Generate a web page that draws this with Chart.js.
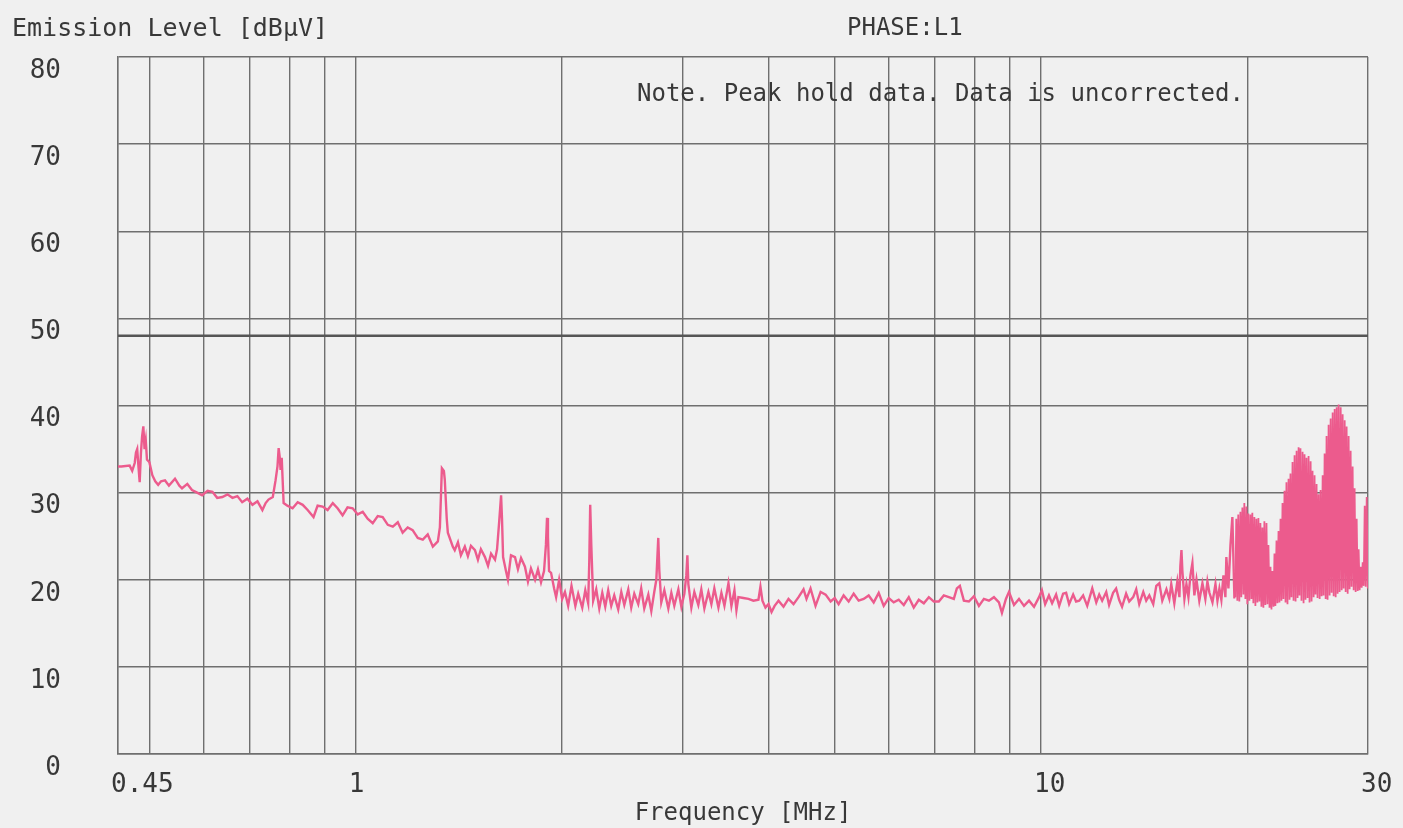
<!DOCTYPE html>
<html>
<head>
<meta charset="utf-8">
<title>Emission Level - PHASE:L1</title>
<script src="https://cdn.jsdelivr.net/npm/chart.js@4.4.1/dist/chart.umd.min.js"></script>
<style>
    html, body { margin: 0; padding: 0; background: #f0f0f0; }
    #wrap { width: 1403px; height: 828px; }
</style>
</head>
<body>
<div id="wrap"><canvas id="grafikEmisi" width="1403" height="828"></canvas></div>
<script>
// trace: frequency [MHz] / level [dBuV]
const freqMHz = [
    0.446, 0.455, 0.468, 0.472, 0.476, 0.478, 0.480, 0.482, 0.484, 0.486, 0.488, 0.490, 0.492, 0.494, 0.496, 0.500, 0.505, 0.510, 0.515, 0.520,
    0.527, 0.534, 0.545, 0.553, 0.558, 0.568, 0.577, 0.587, 0.597, 0.608, 0.618, 0.628, 0.639, 0.650, 0.661, 0.672, 0.683, 0.695, 0.707, 0.719,
    0.731, 0.739, 0.746, 0.757, 0.764, 0.769, 0.772, 0.775, 0.777, 0.780, 0.785, 0.795,
    0.809, 0.823, 0.837, 0.851, 0.868, 0.880, 0.895, 0.910, 0.926, 0.941, 0.957, 0.973, 0.990, 1.007, 1.024, 1.041, 1.059, 1.077, 1.095, 1.114,
    1.133, 1.152, 1.171, 1.191, 1.211, 1.232, 1.253, 1.274, 1.296, 1.318, 1.327, 1.336, 1.345, 1.349, 1.358, 1.363, 1.386,
    1.395, 1.410, 1.424, 1.443, 1.458, 1.473, 1.493, 1.508, 1.523, 1.544, 1.560, 1.576, 1.597, 1.608, 1.619, 1.630, 1.635, 1.641, 1.657, 1.668,
    1.685, 1.708, 1.725, 1.743, 1.766, 1.784, 1.802, 1.827, 1.845, 1.864, 1.883, 1.895, 1.902, 1.908, 1.915, 1.928, 1.948, 1.961, 1.981, 2.001,
    2.020, 2.042, 2.065, 2.092, 2.112, 2.141, 2.163, 2.184, 2.192, 2.199, 2.207, 2.221, 2.244, 2.267, 2.290, 2.313, 2.336, 2.360, 2.384, 2.416,
    2.441, 2.466, 2.499, 2.524, 2.550, 2.584, 2.610, 2.637, 2.673, 2.700, 2.727, 2.746, 2.764, 2.774, 2.792, 2.821, 2.859, 2.888, 2.917, 2.957,
    2.987, 3.017, 3.037, 3.048, 3.058, 3.089, 3.120, 3.162, 3.194, 3.227, 3.271, 3.304, 3.337, 3.383, 3.417, 3.452, 3.499, 3.534, 3.570, 3.594,
    3.618, 3.679, 3.742, 3.805, 3.870, 3.896, 3.922, 3.962, 4.003, 4.044, 4.086,
    4.140, 4.210, 4.281, 4.354, 4.428, 4.503, 4.548, 4.610, 4.688, 4.769, 4.850, 4.932, 5.000, 5.066, 5.152, 5.240, 5.329, 5.419, 5.511, 5.605,
    5.700, 5.797, 5.895, 5.995, 6.097, 6.200, 6.306, 6.413, 6.521, 6.632, 6.745, 6.860, 6.976, 7.094, 7.214, 7.337, 7.461, 7.537, 7.614, 7.717,
    7.848, 7.981, 8.117, 8.254, 8.395, 8.537, 8.682, 8.770, 8.888, 8.980, 9.132, 9.287, 9.445, 9.605, 9.768, 9.934,
    10.03, 10.14, 10.27, 10.38, 10.52, 10.63, 10.77, 10.88, 10.99, 11.14, 11.25, 11.37, 11.52, 11.68, 11.88, 12.04, 12.16, 12.28, 12.45, 12.57,
    12.74, 12.87, 13.00, 13.13, 13.31, 13.45, 13.63, 13.77, 13.91, 14.10, 14.24, 14.39, 14.58, 14.73, 14.88, 15.03, 15.24, 15.39,
    15.49, 15.65, 15.81, 15.92, 15.97, 16.03, 16.08, 16.19, 16.30, 16.41, 16.52, 16.63, 16.74, 16.86, 17.02, 17.20, 17.37, 17.49, 17.61, 17.79,
    17.97, 18.09, 18.21, 18.33, 18.46, 18.58, 18.64, 18.77, 18.90, 19.02, 19.15,
    19.21, 19.27, 19.34, 19.40, 19.47, 19.54, 19.60, 19.67, 19.74, 19.80, 19.87, 19.94, 20.00, 20.07, 20.14, 20.21, 20.28, 20.34, 20.41, 20.48,
    20.55, 20.62, 20.69, 20.76, 20.83, 20.90, 20.97, 21.04, 21.11, 21.18, 21.25, 21.33, 21.40, 21.47, 21.55, 21.62, 21.69, 21.76, 21.84, 21.91,
    21.98, 22.06, 22.13, 22.21, 22.28, 22.36, 22.43, 22.51, 22.58, 22.66, 22.74, 22.81, 22.89, 22.97, 23.05, 23.12, 23.20, 23.28, 23.36, 23.44,
    23.52, 23.60, 23.68, 23.76, 23.83, 23.91, 23.99, 24.08, 24.16, 24.24, 24.32, 24.40, 24.49, 24.57, 24.65, 24.74, 24.82, 24.90, 24.99, 25.07,
    25.15, 25.24, 25.32, 25.41, 25.50, 25.58, 25.67, 25.76, 25.84, 25.93, 26.02, 26.10, 26.19, 26.28, 26.37, 26.46, 26.55, 26.64, 26.73, 26.82,
    26.91, 27.00, 27.09, 27.18, 27.27, 27.37, 27.46, 27.55, 27.64, 27.74, 27.83, 27.92, 28.02, 28.11, 28.20, 28.30, 28.39, 28.49, 28.59, 28.68,
    28.78, 28.88, 28.98, 29.07, 29.17, 29.27, 29.37, 29.47, 29.57, 29.67, 29.77, 29.87, 29.98
];
const levelDb = [
    33.0, 33.0, 33.1, 32.5, 33.4, 34.6, 35.0, 33.0, 31.2, 34.5, 36.5, 37.6, 35.0, 36.0, 33.8, 33.5, 32.0, 31.3, 30.9, 31.3,
    31.4, 30.8, 31.6, 30.8, 30.5, 31.0, 30.3, 30.0, 29.7, 30.2, 30.1, 29.4, 29.5, 29.8, 29.4, 29.6, 28.9, 29.3, 28.6, 29.0,
    28.0, 28.8, 29.2, 29.5, 31.4, 33.0, 35.1, 34.0, 32.6, 34.0, 28.8, 28.5,
    28.2, 28.9, 28.6, 28.0, 27.2, 28.5, 28.4, 28.0, 28.8, 28.2, 27.4, 28.3, 28.2, 27.5, 27.8, 27.0, 26.5, 27.3, 27.2, 26.3,
    26.1, 26.6, 25.4, 26.0, 25.7, 24.8, 24.6, 25.2, 23.8, 24.4, 26.0, 32.8, 32.5, 31.5, 27.0, 25.4, 23.8,
    23.4, 24.3, 22.8, 23.8, 22.7, 23.9, 23.4, 22.3, 23.5, 22.6, 21.6, 23.0, 22.3, 23.5, 26.5, 29.7, 27.0, 22.6, 21.0, 20.0,
    22.8, 22.6, 21.2, 22.5, 21.5, 19.8, 21.3, 20.0, 21.2, 19.7, 21.0, 24.0, 27.1, 25.0, 21.0, 20.8, 19.0, 18.0, 20.0, 17.8,
    18.6, 17.0, 19.3, 17.0, 18.4, 16.8, 18.8, 17.3, 22.0, 28.6, 24.0, 17.6, 18.9, 16.7, 18.5, 16.9, 18.8, 17.0, 18.2, 16.6,
    18.6, 17.1, 18.9, 16.8, 18.4, 17.2, 19.0, 16.7, 18.3, 16.4, 18.6, 20.0, 24.8, 21.0, 17.4, 18.8, 16.7, 18.5, 17.0, 18.9,
    16.9, 18.4, 20.5, 22.8, 19.5, 16.8, 18.6, 17.1, 18.9, 16.7, 18.6, 17.2, 19.0, 16.8, 18.5, 17.0, 19.6, 17.0, 18.8, 16.5,
    18.0, 17.9, 17.8, 17.6, 17.7, 19.2, 17.6, 16.8, 17.2, 16.3, 17.0,
    17.6, 16.9, 17.8, 17.2, 18.0, 18.9, 17.8, 19.0, 17.0, 18.6, 18.3, 17.5, 17.9, 17.2, 18.2, 17.5, 18.4, 17.6, 17.8, 18.2,
    17.4, 18.5, 17.0, 17.9, 17.4, 17.7, 17.1, 18.0, 16.8, 17.7, 17.3, 18.0, 17.5, 17.5, 18.2, 18.0, 17.8, 19.0, 19.3, 17.6,
    17.5, 18.1, 17.0, 17.8, 17.6, 18.0, 17.4, 16.2, 17.8, 18.6, 17.1, 17.8, 17.0, 17.6, 16.9, 18.0,
    18.8, 17.2, 18.2, 17.3, 18.3, 17.0, 18.4, 18.5, 17.2, 18.3, 17.5, 17.6, 18.2, 17.0, 19.0, 17.4, 18.3, 17.6, 18.6, 17.1,
    18.5, 19.0, 17.7, 16.9, 18.4, 17.5, 18.0, 18.9, 17.2, 18.6, 17.6, 18.2, 17.2, 19.3, 19.6, 17.6, 18.9, 17.8,
    19.5, 17.3, 19.8, 18.0, 21.5, 23.4, 21.0, 17.8, 19.5, 18.0, 20.5, 21.9, 18.2, 20.0, 17.6, 19.6, 17.8, 19.8, 18.5, 17.4,
    19.5, 17.6, 19.0, 17.7, 20.5, 18.0, 22.6, 19.0, 24.0, 27.2, 18.0,
    18.0, 27.0, 17.6, 27.5, 17.5, 27.8, 18.0, 28.3, 18.3, 28.8, 17.8, 28.4, 17.2, 27.6, 17.6, 27.5, 17.8, 27.7, 17.3, 27.2,
    17.0, 27.0, 17.4, 27.1, 17.5, 26.5, 16.9, 26.0, 16.8, 26.7, 17.1, 26.5, 17.2, 24.0, 16.8, 21.5, 16.6, 21.0, 16.9, 23.0,
    17.0, 24.5, 17.3, 25.6, 17.4, 27.0, 17.6, 28.8, 17.8, 30.2, 17.4, 31.2, 17.2, 31.6, 17.7, 32.2, 18.0, 33.5, 17.6, 34.3,
    17.5, 34.8, 17.9, 35.2, 18.2, 35.1, 17.6, 34.7, 17.3, 34.4, 17.7, 34.0, 17.9, 34.2, 17.4, 33.6, 17.5, 32.5, 18.0, 32.0,
    18.3, 31.0, 17.9, 29.8, 17.8, 30.3, 18.1, 32.0, 18.2, 34.5, 17.8, 36.5, 17.7, 37.8, 18.2, 38.5, 18.5, 39.2, 18.1, 39.6,
    18.0, 39.8, 18.4, 40.1, 18.6, 39.8, 18.8, 39.0, 19.0, 38.3, 18.6, 37.6, 18.4, 36.5, 18.9, 34.8, 19.2, 33.0, 18.8, 30.5,
    18.6, 27.0, 18.7, 23.5, 18.8, 21.5, 19.1, 22.0, 19.3, 28.5, 19.2, 29.5, 19.0
];

// limit line
const limitFreq = [0.45, 30];
const limitDb = [48, 48];

// vertical grid and labelled frequencies
const gridFreq = [0.45, 0.5, 0.6, 0.7, 0.8, 0.9, 1, 2, 3, 4, 5, 6, 7, 8, 9, 10, 20, 30];
const xTickValues = [0.45, 1, 10, 30];
const xTickLabels = ['0.45', '1', '10', '30'];

const judulSumbuY = 'Emission Level [dB\u03BCV]';
const judulFase = 'PHASE:L1';
const catatan = 'Note. Peak hold data. Data is uncorrected.';
const judulSumbuX = 'Frequency [MHz]';

const fontMono = '"DejaVu Sans Mono", "Liberation Mono", monospace';
const warnaGrid = '#6f6f6f';
const warnaTeks = '#383838';
const warnaTrace = '#ec5b8d';

let titikTrace = freqMHz.map(function (f, i) {
    return { x: f, y: levelDb[i] };
});
let titikLimit = limitFreq.map(function (f, i) {
    return { x: f, y: limitDb[i] };
});

// layout is fixed by layout.padding only, so drop the label overflow padding
function tanpaPadding(scale) {
    scale.paddingLeft = 0;
    scale.paddingRight = 0;
    scale.paddingTop = 0;
    scale.paddingBottom = 0;
}

const teksJudul = {
    id: 'teksJudul',
    afterDraw: function (chart) {
        let ctx = chart.ctx;
        ctx.save();
        ctx.fillStyle = warnaTeks;
        ctx.textBaseline = 'middle';
        ctx.textAlign = 'left';
        ctx.font = '25px ' + fontMono;
        ctx.fillText(judulSumbuY, 12, 29);
        ctx.font = '24px ' + fontMono;
        ctx.fillText(judulFase, 847, 29);
        ctx.fillText(catatan, 637, 95);
        ctx.restore();
    }
};

new Chart(document.getElementById('grafikEmisi'), {
    type: 'line',
    data: {
        datasets: [{
            label: 'L1',
            data: titikTrace,
            borderColor: warnaTrace,
            borderWidth: 2.4,
            pointRadius: 0,
            tension: 0,
            fill: false,
            segment: {
                // the dense sweep above 19 MHz is drawn thinner so it keeps some texture
                borderWidth: function (ctx) {
                    return ctx.p0.parsed.x >= 19.2 ? 1.8 : undefined;
                }
            }
        }, {
            label: 'Limit',
            data: titikLimit,
            borderColor: '#555555',
            borderWidth: 2.4,
            pointRadius: 0,
            fill: false
        }]
    },
    options: {
        responsive: false,
        animation: false,
        events: [],
        layout: {
            padding: { top: 57, right: 35, left: 0, bottom: 0 }
        },
        plugins: {
            legend: { display: false },
            tooltip: { enabled: false }
        },
        scales: {
            x: {
                type: 'logarithmic',
                min: 0.45,
                max: 30,
                afterBuildTicks: function (scale) {
                    scale.ticks = gridFreq.map(function (v) {
                        return { value: v };
                    });
                },
                afterFit: function (scale) {
                    scale.height = 74;
                    tanpaPadding(scale);
                },
                grid: {
                    color: warnaGrid,
                    lineWidth: 1.4,
                    drawTicks: false
                },
                border: { color: warnaGrid, width: 1.4 },
                ticks: {
                    autoSkip: false,
                    maxRotation: 0,
                    align: 'start',
                    labelOffset: -7,
                    padding: 16,
                    color: warnaTeks,
                    font: { family: fontMono, size: 26 },
                    callback: function (value) {
                        let i = xTickValues.indexOf(value);
                        return i >= 0 ? xTickLabels[i] : '';
                    }
                },
                title: {
                    display: true,
                    text: judulSumbuX,
                    color: warnaTeks,
                    font: { family: fontMono, size: 24 },
                    padding: { top: 0, bottom: 0 }
                }
            },
            y: {
                type: 'linear',
                min: 0,
                max: 80,
                afterFit: function (scale) {
                    scale.width = 118;
                    tanpaPadding(scale);
                },
                grid: {
                    color: warnaGrid,
                    lineWidth: 1.4,
                    drawTicks: false
                },
                border: { color: warnaGrid, width: 1.4 },
                ticks: {
                    stepSize: 10,
                    padding: 57,
                    labelOffset: 14,
                    color: warnaTeks,
                    font: { family: fontMono, size: 26 }
                }
            }
        }
    },
    plugins: [teksJudul]
});
</script>
</body>
</html>
